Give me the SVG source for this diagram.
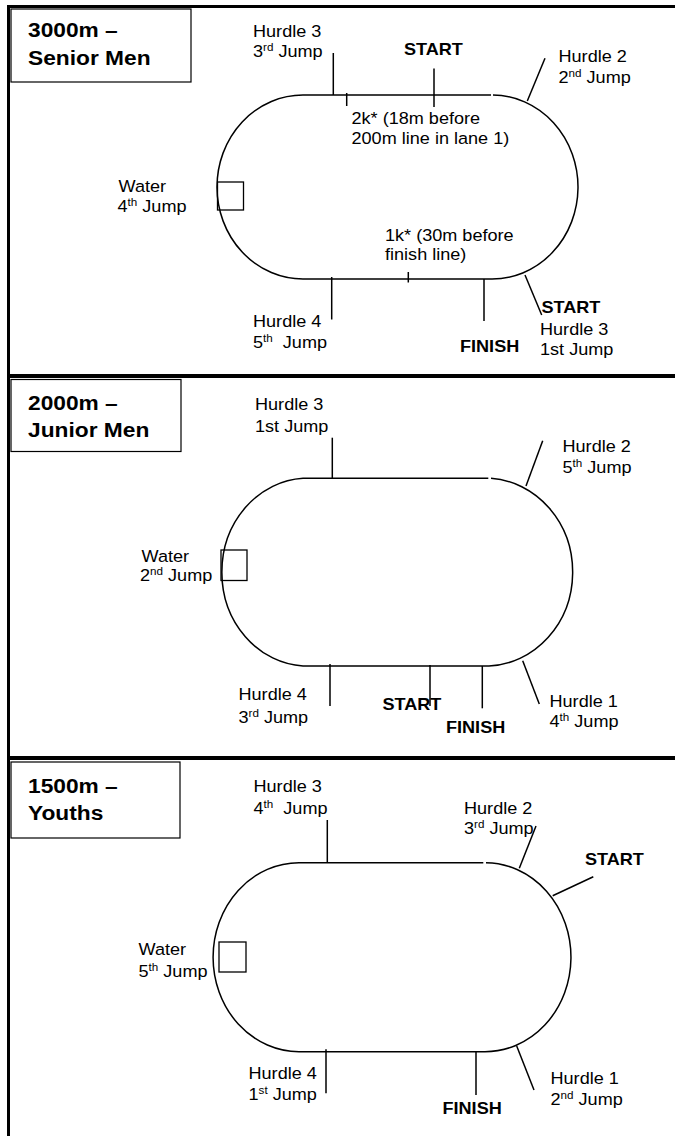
<svg xmlns="http://www.w3.org/2000/svg" width="675" height="1136" viewBox="0 0 675 1136">
<style>
text{font-family:"Liberation Sans",Arial,sans-serif;fill:#000;white-space:pre}
.t{font-size:16.3px}
.b{font-size:16.3px;font-weight:bold}
.h{font-size:20.5px;font-weight:bold}
.s{font-size:10.5px}
.trk{fill:none;stroke:#000;stroke-width:1.5}
.ln{stroke:#000;stroke-width:1.5}
.box{fill:#fff;stroke:#000;stroke-width:1.2}
.wbox{fill:none;stroke:#000;stroke-width:1.3}
</style>
<rect width="675" height="1136" fill="#fff"/>
<g id="frame" fill="#000">
<rect x="7" y="5" width="668" height="3"/>
<rect x="7" y="5" width="3" height="1131"/>
<rect x="7" y="374" width="668" height="4"/>
<rect x="7" y="756" width="668" height="4"/>
</g>

<g id="panel-3000m">
<g id="title-3000m">
<rect class="box" x="11" y="9" width="180" height="73"/>
<text class="h" transform="translate(28,37) scale(1.11,1)">3000m –</text>
<text class="h" transform="translate(28,65) scale(1.11,1)">Senior Men</text>
</g>
<g id="track-3000m">
<path class="trk" d="M491,95 H303 A86,92 0 0 0 303,279 H491"/>
<path class="trk" d="M493,95 A86,92 0 0 1 491,279"/>
<rect class="wbox" x="217.5" y="182" width="26" height="28"/>
</g>
<g id="connectors-3000m">
<line class="ln" x1="333.3" y1="53" x2="333.3" y2="95"/>
<line class="ln" x1="434" y1="68.5" x2="434" y2="107"/>
<line class="ln" x1="346.7" y1="93" x2="346.7" y2="106"/>
<line class="ln" x1="545" y1="58.3" x2="527.3" y2="101"/>
<line class="ln" x1="408.3" y1="272" x2="408.3" y2="282.5"/>
<line class="ln" x1="331.7" y1="277" x2="331.7" y2="319.5"/>
<line class="ln" x1="484" y1="279" x2="484" y2="321"/>
<line class="ln" x1="525" y1="275" x2="541.7" y2="315"/>
</g>
<g id="labels-3000m">
<text class="t" transform="translate(253,37) scale(1.11,1)">Hurdle 3</text>
<text class="t" transform="translate(253,57) scale(1.11,1)">3<tspan class="s" dy="-6">rd</tspan><tspan dy="6"> Jump</tspan></text>
<text class="b" transform="translate(404,55) scale(1.11,1)">START</text>
<text class="t" transform="translate(558.5,61.5) scale(1.11,1)">Hurdle 2</text>
<text class="t" transform="translate(558.5,83) scale(1.11,1)">2<tspan class="s" dy="-6">nd</tspan><tspan dy="6"> Jump</tspan></text>
<text class="t" transform="translate(351.5,123.5) scale(1.11,1)">2k* (18m before</text>
<text class="t" transform="translate(351.5,143.5) scale(1.11,1)">200m line in lane 1)</text>
<text class="t" transform="translate(118.5,192) scale(1.11,1)">Water</text>
<text class="t" transform="translate(117.5,211.5) scale(1.11,1)">4<tspan class="s" dy="-6">th</tspan><tspan dy="6"> Jump</tspan></text>
<text class="t" transform="translate(385,240.5) scale(1.11,1)">1k* (30m before</text>
<text class="t" transform="translate(385,260) scale(1.11,1)">finish line)</text>
<text class="t" transform="translate(253,326.5) scale(1.11,1)">Hurdle 4</text>
<text class="t" transform="translate(253,348) scale(1.11,1)">5<tspan class="s" dy="-6">th</tspan><tspan dy="6">  Jump</tspan></text>
<text class="b" transform="translate(460,351.5) scale(1.11,1)">FINISH</text>
<text class="b" transform="translate(541.5,312.5) scale(1.11,1)">START</text>
<text class="t" transform="translate(540,335) scale(1.11,1)">Hurdle 3</text>
<text class="t" transform="translate(540,355) scale(1.11,1)">1st Jump</text>
</g>
</g>

<g id="panel-2000m">
<g id="title-2000m">
<rect class="box" x="11" y="379.5" width="170" height="72"/>
<text class="h" transform="translate(28,410) scale(1.11,1)">2000m –</text>
<text class="h" transform="translate(28,436.5) scale(1.11,1)">Junior Men</text>
</g>
<g id="track-2000m">
<path class="trk" d="M488.3,478.3 H303 A86,94 0 0 0 303,666 H489"/>
<path class="trk" d="M491,478.3 A87.5,94 0 0 1 489,666"/>
<rect class="wbox" x="221" y="550" width="26" height="30.5"/>
</g>
<g id="connectors-2000m">
<line class="ln" x1="332.3" y1="437.7" x2="332.3" y2="478.3"/>
<line class="ln" x1="542.7" y1="440.7" x2="526" y2="486"/>
<line class="ln" x1="330" y1="664" x2="330" y2="706"/>
<line class="ln" x1="430" y1="665" x2="430" y2="706"/>
<line class="ln" x1="482.3" y1="666" x2="482.3" y2="708.3"/>
<line class="ln" x1="522.7" y1="660.7" x2="539.3" y2="704"/>
</g>
<g id="labels-2000m">
<text class="t" transform="translate(255,409.5) scale(1.11,1)">Hurdle 3</text>
<text class="t" transform="translate(255,431.5) scale(1.11,1)">1st Jump</text>
<text class="t" transform="translate(562.5,451.5) scale(1.11,1)">Hurdle 2</text>
<text class="t" transform="translate(562.5,473) scale(1.11,1)">5<tspan class="s" dy="-6">th</tspan><tspan dy="6"> Jump</tspan></text>
<text class="t" transform="translate(141.5,561.5) scale(1.11,1)">Water</text>
<text class="t" transform="translate(140,580.5) scale(1.11,1)">2<tspan class="s" dy="-6">nd</tspan><tspan dy="6"> Jump</tspan></text>
<text class="t" transform="translate(238.5,700) scale(1.11,1)">Hurdle 4</text>
<text class="t" transform="translate(238.5,722.5) scale(1.11,1)">3<tspan class="s" dy="-6">rd</tspan><tspan dy="6"> Jump</tspan></text>
<text class="b" transform="translate(382.5,710) scale(1.11,1)">START</text>
<text class="b" transform="translate(446,732.5) scale(1.11,1)">FINISH</text>
<text class="t" transform="translate(549.5,706.5) scale(1.11,1)">Hurdle 1</text>
<text class="t" transform="translate(549.5,726.5) scale(1.11,1)">4<tspan class="s" dy="-6">th</tspan><tspan dy="6"> Jump</tspan></text>
</g>
</g>

<g id="panel-1500m">
<g id="title-1500m">
<rect class="box" x="11" y="762" width="169" height="76"/>
<text class="h" transform="translate(28,792.5) scale(1.11,1)">1500m –</text>
<text class="h" transform="translate(28,820) scale(1.11,1)">Youths</text>
</g>
<g id="track-1500m">
<path class="trk" d="M483.3,862.7 H299 A86,94.5 0 0 0 299,1051.7 H484"/>
<path class="trk" d="M486,862.7 A86,94.5 0 0 1 484,1051.7"/>
<rect class="wbox" x="219" y="942" width="27" height="30"/>
</g>
<g id="connectors-1500m">
<line class="ln" x1="327.3" y1="820" x2="327.3" y2="862.7"/>
<line class="ln" x1="536" y1="826" x2="519.3" y2="868.3"/>
<line class="ln" x1="593.3" y1="876.7" x2="552.7" y2="895.7"/>
<line class="ln" x1="326" y1="1049.3" x2="326" y2="1093.3"/>
<line class="ln" x1="476" y1="1051" x2="476" y2="1095"/>
<line class="ln" x1="516.7" y1="1046" x2="534" y2="1090"/>
</g>
<g id="labels-1500m">
<text class="t" transform="translate(253.5,791.5) scale(1.11,1)">Hurdle 3</text>
<text class="t" transform="translate(253.5,813.5) scale(1.11,1)">4<tspan class="s" dy="-6">th</tspan><tspan dy="6">  Jump</tspan></text>
<text class="t" transform="translate(464,813.5) scale(1.11,1)">Hurdle 2</text>
<text class="t" transform="translate(464,834) scale(1.11,1)">3<tspan class="s" dy="-6">rd</tspan><tspan dy="6"> Jump</tspan></text>
<text class="b" transform="translate(585,865) scale(1.11,1)">START</text>
<text class="t" transform="translate(138.5,955) scale(1.11,1)">Water</text>
<text class="t" transform="translate(138.5,976.5) scale(1.11,1)">5<tspan class="s" dy="-6">th</tspan><tspan dy="6"> Jump</tspan></text>
<text class="t" transform="translate(248.5,1078.5) scale(1.11,1)">Hurdle 4</text>
<text class="t" transform="translate(248.5,1099.5) scale(1.11,1)">1<tspan class="s" dy="-6">st</tspan><tspan dy="6"> Jump</tspan></text>
<text class="b" transform="translate(442.5,1114) scale(1.11,1)">FINISH</text>
<text class="t" transform="translate(550.5,1084) scale(1.11,1)">Hurdle 1</text>
<text class="t" transform="translate(550.5,1105) scale(1.11,1)">2<tspan class="s" dy="-6">nd</tspan><tspan dy="6"> Jump</tspan></text>
</g>
</g>
</svg>
